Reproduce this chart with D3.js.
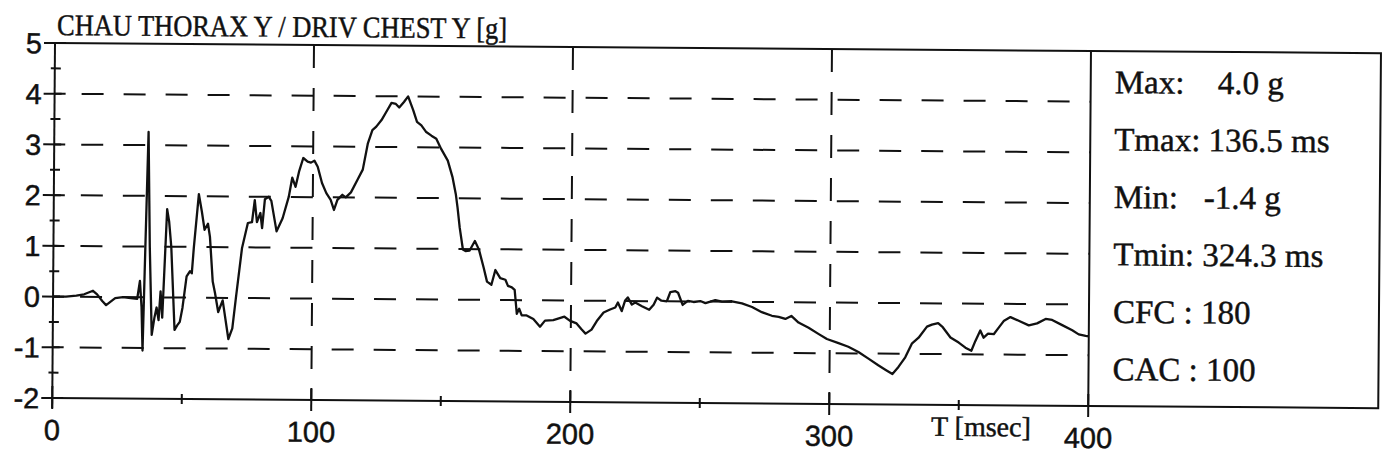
<!DOCTYPE html>
<html>
<head>
<meta charset="utf-8">
<script src="https://cdn.jsdelivr.net/npm/d3@7"></script>
<style>
  html, body { margin: 0; padding: 0; background: #fff; }
  svg { display: block; }
</style>
</head>
<body>
<svg id="chart" width="1389" height="463"></svg>
<script>
// Chest lateral acceleration trace, time in ms, acceleration in g
const timeMs = [
  0, 5, 9, 12, 15.4, 17, 19, 20.5, 22, 24, 27, 30, 32.5, 33.5, 34.2, 34.7, 35.3, 36.4, 37.2, 38.2,
  39.2, 40, 40.8, 41.5, 42.2, 43.8, 44.6, 45.5, 47, 48, 49, 50, 51.5, 52.8, 53.5, 54.2, 56, 57.2, 58.3, 59.6,
  60.4, 61.6, 62.5, 63.8, 65.5, 67.8, 69.3, 70.6, 72.8, 75, 76.6, 77.6, 78.5, 79.8, 80.5, 81.5, 83, 84, 86.1, 88.4,
  90.7, 92, 93.3, 94.6, 96.2, 97.9, 99.2, 100.5, 101.8, 103.5, 105.2, 106.9, 108.2, 109.5, 111.4, 112.7, 114.7, 117.2, 119.2, 121.1,
  122.8, 124.3, 126.3, 128.2, 130.1, 131.8, 133.1, 134.9, 136.5, 138.5, 140, 141.7, 143.6, 145.6, 147.5, 149.4, 152, 153.9, 155.2, 155.9,
  156.8, 158.1, 159.1, 160.7, 162.7, 164.3, 166.2, 167.5, 169.2, 170.7, 172.6, 174.6, 175.6, 177.1, 178.2, 179.1, 180, 181, 182.9, 185.5,
  188.1, 190, 193.2, 197.5, 199.7, 202.2, 204.2, 205.7, 208, 210, 212.6, 215.1, 217.1, 218.1, 219.6, 220.9, 221.9, 223.5, 224.8, 227.4,
  230.2, 231.9, 233.2, 234.9, 237, 238.3, 240.3, 241.3, 243.1, 245.1, 247.3, 249.9, 251.9, 253.8, 255.7, 258.3, 262.1, 266, 269.9, 273.7,
  277.6, 280.2, 282.8, 285.1, 287.9, 291.8, 295.6, 298.9, 303.4, 307.2, 311.1, 315, 318.8, 321.7, 324.3, 326.6, 329.2, 331.7, 334.3, 337.5,
  339.4, 341.8, 343.6, 346.6, 349.8, 352.4, 354.7, 356.2, 358.1, 359.4, 361.1, 363.3, 365.2, 367.1, 369.7, 372.9, 376.8, 380, 383.3, 385.8,
  389.7, 393.6, 396.1, 398.8, 400
];
const accelG = [
  0, 0, 0.02, 0.05, 0.12, 0.05, -0.08, -0.16, -0.1, -0.02, 0, -0.02, -0.03, 0.32, -0.2, -1.05, 0.5, 3.26, 1.0, -0.74,
  -0.4, -0.2, -0.45, 0.12, -0.4, 1.74, 1.5, 1.0, -0.64, -0.55, -0.48, -0.2, 0.42, 0.52, 0.48, 0.98, 2.04, 1.7, 1.34, 1.46,
  1.2, 0.32, 0.1, -0.28, -0.05, -0.81, -0.6, 0, 0.98, 1.48, 1.5, 1.93, 1.5, 1.68, 1.38, 1.95, 2.0, 1.92, 1.32, 1.58,
  2.0, 2.38, 2.2, 2.5, 2.77, 2.7, 2.68, 2.72, 2.6, 2.28, 2.08, 1.95, 1.75, 1.95, 2.05, 2.0, 2.1, 2.35, 2.55, 3.07,
  3.33, 3.4, 3.53, 3.7, 3.87, 3.85, 3.78, 3.89, 4.0, 3.73, 3.5, 3.43, 3.3, 3.23, 3.17, 2.97, 2.74, 2.41, 2.08, 1.82,
  1.42, 0.99, 0.96, 0.97, 1.16, 0.99, 0.63, 0.36, 0.3, 0.59, 0.43, 0.4, 0.28, 0.25, 0.2, -0.27, -0.17, -0.3, -0.3, -0.37,
  -0.52, -0.4, -0.39, -0.32, -0.4, -0.45, -0.57, -0.65, -0.57, -0.4, -0.23, -0.17, -0.13, -0.03, -0.2, 0.01, 0.07, -0.07, -0.03, -0.1,
  -0.17, -0.07, 0.07, 0.01, 0, 0.18, 0.2, 0.17, -0.07, 0.01, -0.01, 0.01, -0.03, 0, 0.03, 0, 0.01, -0.03, -0.1, -0.2,
  -0.27, -0.29, -0.33, -0.27, -0.4, -0.5, -0.62, -0.72, -0.8, -0.87, -0.97, -1.1, -1.23, -1.32, -1.4, -1.26, -1.07, -0.8, -0.68, -0.46,
  -0.42, -0.39, -0.47, -0.67, -0.77, -0.87, -0.93, -0.74, -0.53, -0.67, -0.59, -0.6, -0.47, -0.34, -0.26, -0.33, -0.42, -0.38, -0.29, -0.31,
  -0.41, -0.51, -0.59, -0.62, -0.63
];

const yTicks = [-2, -1, 0, 1, 2, 3, 4, 5];
const yMinorTicks = [-1.5, -0.5, 0.5, 1.5, 2.5, 3.5, 4.5];
const xTicks = [0, 100, 200, 300, 400];
const xMinorTicks = [50, 150, 250, 350];
const yGrid = [-1, 0, 1, 2, 3, 4];
const xGrid = [100, 200, 300];

const titleText = "CHAU THORAX Y / DRIV CHEST Y [g]";
const xAxisTitle = "T [msec]";
const statLabels = ["Max:", "Tmax: 136.5 ms", "Min:", "Tmin: 324.3 ms", "CFC : 180", "CAC : 100"];
const statValues = ["4.0 g", "", "-1.4 g", "", "", ""];

const plotLeft = 55, plotRight = 1091, plotTop = 43, plotBottom = 398;
const boxRight = 1381;

const x = d3.scaleLinear().domain([0, 400]).range([plotLeft, plotRight]);
const y = d3.scaleLinear().domain([-2, 5]).range([plotBottom, plotTop]);

const svg = d3.select("#chart");
// the printed sheet sits slightly tilted
const page = svg.append("g").attr("transform", `rotate(0.44, ${plotLeft}, ${plotTop})`);

const ink = "#111";
const sans = "'Liberation Sans', Arial, Helvetica, sans-serif";
const serif = "'Liberation Serif', 'Times New Roman', Times, serif";

// slightly heavy printed text
function inked(sel) {
  return sel.attr("fill", ink).attr("stroke", ink).attr("stroke-width", 0.45);
}

// dashed grid
page.append("g")
  .selectAll("line")
  .data(yGrid)
  .join("line")
  .attr("x1", plotLeft).attr("x2", plotRight)
  .attr("y1", d => y(d)).attr("y2", d => y(d))
  .attr("stroke", ink).attr("stroke-width", 2)
  .attr("stroke-dasharray", "22,20").attr("stroke-dashoffset", 15);

page.append("g")
  .selectAll("line")
  .data(xGrid)
  .join("line")
  .attr("x1", d => x(d)).attr("x2", d => x(d))
  .attr("y1", plotTop).attr("y2", plotBottom)
  .attr("stroke", ink).attr("stroke-width", 2)
  .attr("stroke-dasharray", "23,20");

// frame: top edge and stats box
page.append("line").attr("x1", plotLeft).attr("x2", plotRight).attr("y1", plotTop).attr("y2", plotTop)
  .attr("stroke", ink).attr("stroke-width", 2);
page.append("rect")
  .attr("x", plotRight).attr("y", plotTop).attr("width", boxRight - plotRight).attr("height", plotBottom - plotTop)
  .attr("fill", "none").attr("stroke", ink).attr("stroke-width", 2);

// y axis with crossing ticks
const yAxis = page.append("g").attr("transform", `translate(${plotLeft},0)`);
yAxis.append("line").attr("x1", 0).attr("x2", 0).attr("y1", plotTop).attr("y2", plotBottom + 10)
  .attr("stroke", ink).attr("stroke-width", 2);
yAxis.selectAll("line.major").data(yTicks).join("line").attr("class", "major")
  .attr("x1", -11).attr("x2", 11).attr("y1", d => y(d)).attr("y2", d => y(d))
  .attr("stroke", ink).attr("stroke-width", 2);
yAxis.selectAll("line.minor").data(yMinorTicks).join("line").attr("class", "minor")
  .attr("x1", -4).attr("x2", 6).attr("y1", d => y(d)).attr("y2", d => y(d))
  .attr("stroke", ink).attr("stroke-width", 2);
inked(yAxis.selectAll("text").data(yTicks).join("text")
  .attr("x", -13).attr("y", d => y(d)).attr("dy", "0.36em")
  .attr("text-anchor", "end")
  .style("font-family", sans).style("font-size", "29px"))
  .text(d => d);

// x axis with crossing ticks
const xAxis = page.append("g").attr("transform", `translate(0,${plotBottom})`);
xAxis.append("line").attr("x1", plotLeft).attr("x2", plotRight).attr("y1", 0).attr("y2", 0)
  .attr("stroke", ink).attr("stroke-width", 2);
xAxis.selectAll("line.major").data(xTicks).join("line").attr("class", "major")
  .attr("x1", d => x(d)).attr("x2", d => x(d)).attr("y1", -12).attr("y2", 11)
  .attr("stroke", ink).attr("stroke-width", 2);
xAxis.selectAll("line.minor").data(xMinorTicks).join("line").attr("class", "minor")
  .attr("x1", d => x(d)).attr("x2", d => x(d)).attr("y1", -5).attr("y2", 5)
  .attr("stroke", ink).attr("stroke-width", 2);
inked(xAxis.selectAll("text").data(xTicks).join("text")
  .attr("x", d => x(d)).attr("y", 42)
  .attr("text-anchor", "middle")
  .style("font-family", sans).style("font-size", "29px"))
  .text(d => d);

inked(page.append("text")
  .attr("x", 934).attr("y", 429)
  .style("font-family", serif).style("font-size", "28px"))
  .text(xAxisTitle);

// title
inked(page.append("text")
  .attr("x", 57).attr("y", 35)
  .attr("textLength", 450).attr("lengthAdjust", "spacingAndGlyphs")
  .style("font-family", serif).style("font-size", "30px"))
  .text(titleText);

// signal trace
const trace = d3.line().x((d, i) => x(timeMs[i])).y(d => y(d));
page.append("path")
  .datum(accelG)
  .attr("d", trace)
  .attr("fill", "none").attr("stroke", ink).attr("stroke-width", 2.3)
  .attr("stroke-linejoin", "round");

// statistics block
const stats = page.append("g");
inked(stats.selectAll("text.lbl").data(statLabels).join("text").attr("class", "lbl")
  .attr("x", 1115).attr("y", (d, i) => 85 + i * 57.4)
  .style("font-family", serif).style("font-size", "33px"))
  .text(d => d);
inked(stats.selectAll("text.val").data(statValues).join("text").attr("class", "val")
  .attr("x", (d, i) => i === 0 ? 1218 : 1205).attr("y", (d, i) => 85 + i * 57.4)
  .style("font-family", serif).style("font-size", "33px"))
  .text(d => d);
</script>
</body>
</html>
